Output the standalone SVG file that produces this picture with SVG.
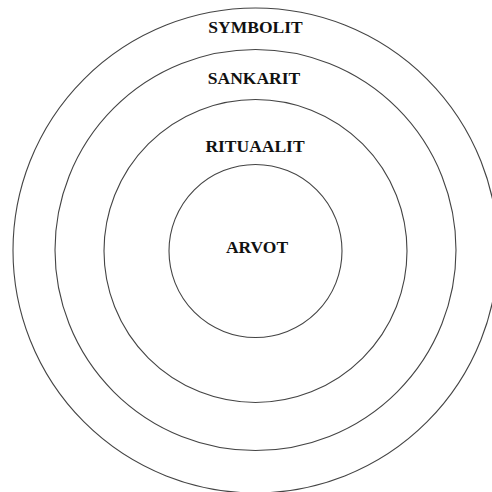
<svg xmlns="http://www.w3.org/2000/svg" width="492" height="492" viewBox="0 0 492 492">
<style>
.ring{fill:none;stroke:#444;stroke-width:1.1}
.lbl{font-family:"Liberation Serif","Times New Roman",serif;font-weight:bold;font-size:17.5px;fill:#111;text-anchor:middle}
</style>
<rect width="492" height="492" fill="#fff"/>
<g id="symbolit"><circle class="ring" cx="255.5" cy="250.5" r="242.5"/><text class="lbl" x="255.5" y="33">SYMBOLIT</text></g>
<g id="sankarit"><circle class="ring" cx="255.5" cy="250" r="200.5"/><text class="lbl" x="254" y="84">SANKARIT</text></g>
<g id="rituaalit"><circle class="ring" cx="255.5" cy="251" r="151.5"/><text class="lbl" x="255" y="152">RITUAALIT</text></g>
<g id="arvot"><circle class="ring" cx="255.5" cy="251" r="86.5"/><text class="lbl" x="257" y="253">ARVOT</text></g>
<g id="connectors"/>
</svg>
